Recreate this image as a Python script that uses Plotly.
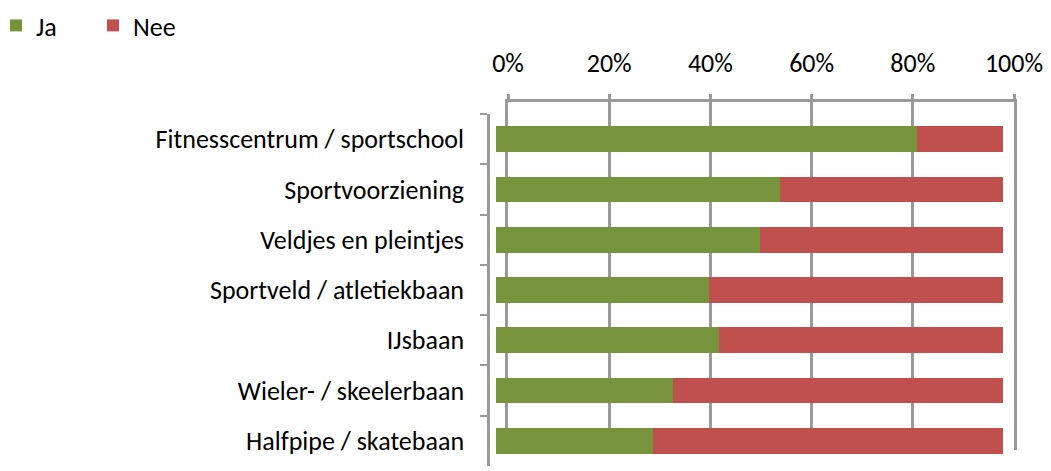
import plotly.graph_objects as go

categories = [
    "Fitnesscentrum / sportschool",
    "Sportvoorziening",
    "Veldjes en pleintjes",
    "Sportveld / atletiekbaan",
    "IJsbaan",
    "Wieler- / skeelerbaan",
    "Halfpipe / skatebaan",
]
ja = [83, 56, 52, 42, 44, 35, 31]
nee = [17, 44, 48, 58, 56, 65, 69]
tick_vals = [0, 20, 40, 60, 80, 100]
tick_text = ["0%", "20%", "40%", "60%", "80%", "100%"]

# the page body has an 8px default margin; size the figure to fill the rest
OFF = 8
W, H = 1051 - OFF, 471 - OFF
FONT = "Calibri, Carlito, Lato, sans-serif"
FS = 26
GREEN = "#77933C"
RED = "#C0504D"
GRID = "#9A9A9A"


def px_x(p):
    return (p - OFF) / W


def px_y(p):
    return 1 - (p - OFF) / H


fig = go.Figure()

# back wall (gridlines + top percentage labels)
fig.add_trace(go.Scatter(x=[None], y=[None], xaxis="x", yaxis="y",
                         showlegend=False, hoverinfo="skip"))

# bars
fig.add_trace(go.Bar(name="Ja", y=categories, x=ja, orientation="h",
                     marker=dict(color=GREEN, line=dict(width=0)),
                     width=0.51, xaxis="x2", yaxis="y2"))
fig.add_trace(go.Bar(name="Nee", y=categories, x=nee, orientation="h",
                     marker=dict(color=RED, line=dict(width=0)),
                     width=0.51, xaxis="x2", yaxis="y2"))

fig.update_layout(
    width=W, height=H,
    margin=dict(l=0, r=0, t=0, b=0, autoexpand=False),
    paper_bgcolor="white",
    plot_bgcolor="rgba(0,0,0,0)",
    barmode="stack",
    font=dict(family=FONT, size=FS, color="#000000"),
    showlegend=True,
    legend=dict(orientation="h", x=-12 / W, y=1 + 6 / H, xanchor="left", yanchor="top",
                entrywidth=52, entrywidthmode="pixels",
                font=dict(family=FONT, size=FS, color="#000000"),
                bgcolor="rgba(0,0,0,0)", traceorder="normal"),
    xaxis=dict(domain=[px_x(508), px_x(1014)], anchor="y", side="top",
               range=[0, 100], tickvals=tick_vals, ticktext=tick_text,
               showgrid=True, gridcolor=GRID, gridwidth=2.5,
               showline=True, linecolor=GRID, linewidth=2.5,
               ticks="outside", ticklen=5, tickwidth=2.5, tickcolor=GRID,
               ticklabelstandoff=12, zeroline=False, fixedrange=True,
               tickfont=dict(family=FONT, size=FS, color="#000000")),
    yaxis=dict(domain=[px_y(450), px_y(102)], anchor="x", range=[0, 1],
               showgrid=False, zeroline=False, showticklabels=False,
               showline=True, mirror=True, linecolor=GRID, linewidth=2.5,
               ticks="", fixedrange=True),
    xaxis2=dict(domain=[px_x(496), px_x(1003)], anchor="y2", range=[0, 100],
                visible=False, fixedrange=True),
    yaxis2=dict(domain=[px_y(466), px_y(114)], anchor="free", position=px_x(488),
                type="category", categoryorder="array", categoryarray=categories,
                range=[6.5, -0.5], showgrid=False, zeroline=False,
                showline=True, linecolor=GRID, linewidth=2.5,
                ticks="outside", ticklen=7, tickwidth=2, tickcolor=GRID,
                tickson="boundaries", ticklabelstandoff=18,
                tickfont=dict(family=FONT, size=FS, color="#000000"),
                fixedrange=True),
)

fig.write_html("out.html")
